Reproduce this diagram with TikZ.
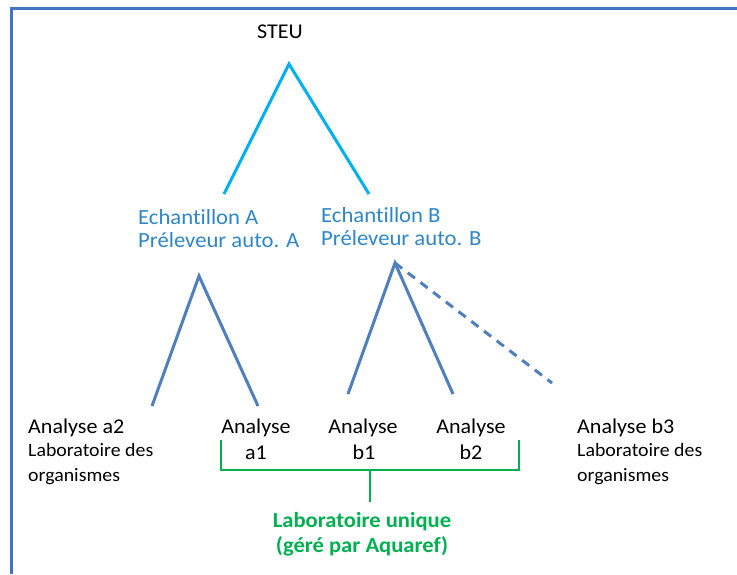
\documentclass[tikz,border=0pt]{standalone}
\usepackage{fontspec}
\setmainfont{Carlito}[FakeStretch=1.05, Ligatures=NoCommon]
\usepackage{xcolor}
\usetikzlibrary{positioning}
\definecolor{framecol}{HTML}{4472C4}
\definecolor{skyline}{HTML}{00B0F0}
\definecolor{skytext}{HTML}{2E86C9}
\definecolor{treeline}{HTML}{4F7FBD}
\definecolor{labgreen}{HTML}{00B050}
\tikzset{
  txt/.style={inner sep=0pt, font=\fontsize{21}{25}\selectfont},
  smalltxt/.style={inner sep=0pt, align=left, font=\fontsize{18.9}{24.5}\selectfont},
  ech/.style={inner sep=0pt, text=skytext, font=\fontsize{21.6}{23}\selectfont},
  branch/.style={line width=3pt, treeline},
}
\begin{document}
\begin{tikzpicture}[x=1pt,y=-1pt]
    \useasboundingbox (0,0) rectangle (737,574);
    % frame
    \draw[framecol, line width=3pt] (11.5,574) -- (11.5,8) -- (737,8);
    % top level
    \node[txt, anchor=base] (steu) at (280,38) {STEU};
    \coordinate (topS) at (289,64);
    \coordinate (topA) at (224,194);
    \coordinate (topB) at (369,194);
    \draw[line width=3pt, skyline] (topA) -- (topS) -- (topB);
    % samples
    \node[ech, anchor=base west] (echA) at (138,224) {Echantillon A};
    \node[ech, anchor=base west] (prelA) at (138,247) {Préleveur auto. A};
    \node[ech, anchor=base west] (echB) at (321,222) {Echantillon B};
    \node[ech, anchor=base west] (prelB) at (321,245) {Préleveur auto. B};
    % analyses
    \coordinate (apexA) at (199,276);
    \coordinate (endA2) at (152,406);
    \coordinate (endA1) at (258,406);
    \draw[branch] (endA2) -- (apexA) -- (endA1);
    \coordinate (apexB) at (395,263);
    \coordinate (endB1) at (348,394);
    \coordinate (endB2) at (453,394);
    \coordinate (endB3) at (552,383);
    \draw[branch] (endB1) -- (apexB) -- (endB2);
    \draw[branch, dash pattern=on 9pt off 7pt] (apexB) -- (endB3);
    \node[txt, anchor=base west] (anaA2) at (28,433) {Analyse a2};
    \node[smalltxt, anchor=base west] (orgA2) at (28,481) {Laboratoire des\\organismes};
    \node[txt, anchor=base] (anaA1) at (256,433) {Analyse};
    \node[txt, anchor=base] (idA1) at (256,459) {a1};
    \node[txt, anchor=base] (anaB1) at (363,433) {Analyse};
    \node[txt, anchor=base] (idB1) at (364,459) {b1};
    \node[txt, anchor=base] (anaB2) at (471,433) {Analyse};
    \node[txt, anchor=base] (idB2) at (471,459) {b2};
    \node[txt, anchor=base west] (anaB3) at (577,433) {Analyse b3};
    \node[smalltxt, anchor=base west] (orgB3) at (577,481) {Laboratoire des\\organismes};
    % single lab
    \coordinate (brL) at (221,440);
    \coordinate (brR) at (519,440);
    \coordinate (stem) at (370,502);
    \draw[labgreen, line width=1.5pt] (brL) |- (brR |- 0,470) -- (brR);
    \draw[labgreen, line width=1.5pt] (stem |- 0,470) -- (stem);
    \node[inner sep=0pt, align=center, text=labgreen, font=\bfseries\fontsize{21.5}{24.5}\selectfont, anchor=base] (labU) at (362,552) {Laboratoire unique\\(géré par Aquaref)};
\end{tikzpicture}
\end{document}
